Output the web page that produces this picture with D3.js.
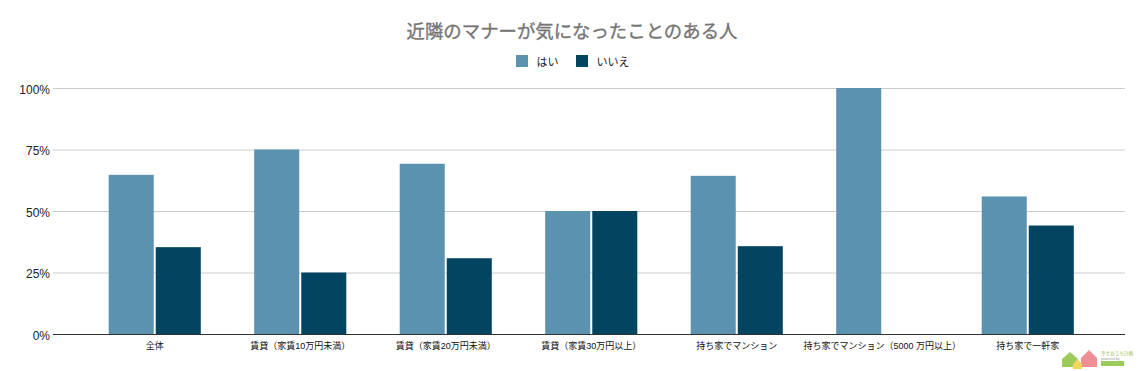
<!DOCTYPE html>
<html>
<head>
<meta charset="utf-8">
<script src="https://cdn.jsdelivr.net/npm/d3@7"></script>
<style>
body { margin: 0; background: #fff; }
text { font-family: "Liberation Sans", "Noto Sans CJK JP", sans-serif; }
</style>
</head>
<body>
<div id="chart"></div>
<script>
var categories = ['全体', '賃貸（家賃10万円未満）', '賃貸（家賃20万円未満）', '賃貸（家賃30万円以上）', '持ち家でマンション', '持ち家でマンション（5000 万円以上）', '持ち家で一軒家'];
var seriesNames = ['はい', 'いいえ'];
var hai = [64.7, 75, 69.2, 50, 64.3, 100, 55.9];
var iie = [35.3, 25, 30.8, 50, 35.7, 0, 44.1];
var yTicks = [0, 25, 50, 75, 100];
var colors = ['#5b92b0', '#034561'];

var width = 1144, height = 371;

var svg = d3.select('#chart').append('svg')
    .attr('width', width)
    .attr('height', height)
    .style('display', 'block')

// scales
var xscale = d3.scaleBand()
    .domain(categories)
    .range([82.5, 1100])
    .paddingInner(0.367)
    .paddingOuter(0.18)

var xsub = d3.scaleBand()
    .domain(seriesNames)
    .range([0, xscale.bandwidth()])
    .paddingInner(0.043)

var yscale = d3.scaleLinear()
    .domain([0, 100])
    .range([334, 88])

// title
svg.append('text')
    .attr('x', 572)
    .attr('y', 38)
    .attr('text-anchor', 'middle')
    .attr('font-size', 18.4)
    .attr('fill', '#757575')
    .attr('stroke', '#757575')
    .attr('stroke-width', 0.35)
    .text('近隣のマナーが気になったことのある人')

// legend
var legendX = [516, 576]
seriesNames.forEach(function(name, i) {
    svg.append('rect')
        .attr('x', legendX[i])
        .attr('y', 55)
        .attr('width', 12)
        .attr('height', 12)
        .attr('fill', colors[i])
    svg.append('text')
        .attr('x', legendX[i] + 20.5)
        .attr('y', 65.5)
        .attr('font-size', 11)
        .attr('fill', '#222')
        .text(name)
})

// gridlines and y labels
var yaxis = d3.axisLeft(yscale)
    .tickValues(yTicks)
    .tickSize(-(1125 - 53))
    .tickPadding(3)
    .tickFormat(function(d) { return d + '%' })

svg.append('g')
    .attr('transform', 'translate(53,0)')
    .call(yaxis)
    .call(function(g) {
        g.select('.domain').remove()
        g.selectAll('.tick line').attr('stroke', function(d) { return d === 0 ? '#333' : '#ccc' })
        g.selectAll('.tick text').attr('font-size', 12).attr('fill', '#222').attr('dy', '0.42em')
    })

// bars
var groups = svg.selectAll('.cat')
    .data(categories)
    .enter()
    .append('g')
    .attr('transform', function(d) { return 'translate(' + xscale(d) + ',0)' })

var seriesValues = [hai, iie]
seriesNames.forEach(function(name, s) {
    groups.append('rect')
        .attr('x', xsub(name))
        .attr('y', function(d, i) { return yscale(seriesValues[s][i]) })
        .attr('width', xsub.bandwidth())
        .attr('height', function(d, i) { return yscale(0) - yscale(seriesValues[s][i]) })
        .attr('fill', colors[s])
})

// x labels
var xaxis = d3.axisBottom(xscale).tickSize(0).tickPadding(9)
svg.append('g')
    .attr('transform', 'translate(0,334)')
    .call(xaxis)
    .call(function(g) {
        g.select('.domain').remove()
        g.selectAll('.tick text').attr('font-size', 9).attr('fill', '#111')
    })

// watermark logo, bottom right
var logo = svg.append('g')
logo.append('path').attr('d', 'M1062,359L1070,352L1078,359L1078,367L1062,367Z').attr('fill', '#9ccb5c')
logo.append('path').attr('d', 'M1081,358L1089,350L1097,358L1097,367L1081,367Z').attr('fill', '#ee8f96')
logo.append('path').attr('d', 'M1073,364L1077.5,359L1082,364L1082,369L1073,369Z').attr('fill', '#f3d45e')
logo.append('text').attr('x', 1101).attr('y', 355).attr('font-size', 4.6).attr('fill', '#9ab84a').text('幸せおうち計画')
logo.append('text').attr('x', 1101).attr('y', 359.5).attr('font-size', 3.6).attr('fill', '#999').text('powered by')
logo.append('rect').attr('x', 1101).attr('y', 361).attr('width', 23).attr('height', 5).attr('fill', '#9ccb5c')
</script>
</body>
</html>
